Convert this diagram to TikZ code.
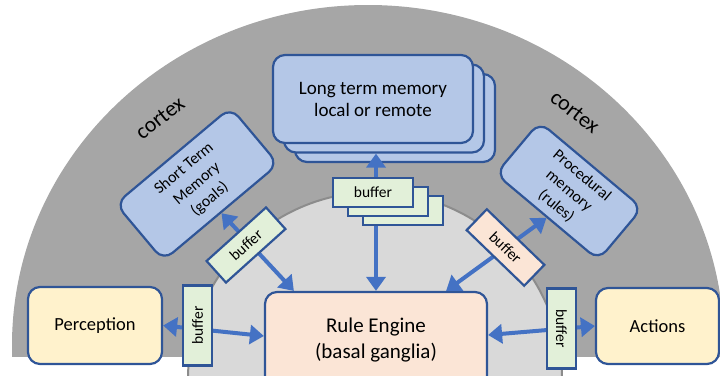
\documentclass[tikz,border=0pt]{standalone}
\usepackage{fontspec}
\setmainfont{Carlito}
\usetikzlibrary{arrows.meta}
\definecolor{cortexgray}{HTML}{A6A6A6}
\definecolor{innergray}{HTML}{D9D9D9}
\definecolor{innerline}{HTML}{8C8C8C}
\definecolor{memblue}{HTML}{B4C7E7}
\definecolor{edgeblue}{HTML}{2F5597}
\definecolor{bufgreen}{HTML}{E2F0D9}
\definecolor{peach}{HTML}{FBE5D6}
\definecolor{cream}{HTML}{FFF2CC}
\definecolor{arrowblue}{HTML}{4472C4}
\begin{document}
\begin{tikzpicture}[x=1pt,y=-1pt,
  box/.style={draw=edgeblue, line width=2.2pt, rounded corners=12pt, inner sep=0pt, align=center, text=black},
  mem/.style={box, fill=memblue},
  buf/.style={draw=edgeblue, line width=2.2pt, fill=bufgreen, inner sep=0pt, minimum width=80pt, minimum height=29pt, font=\fontsize{15.5}{18}\selectfont},
  link/.style={draw=arrowblue, line width=4pt, {Triangle[length=14pt,width=19pt]}-{Triangle[length=14pt,width=19pt]}},
  cortexlabel/.style={font=\fontsize{22}{26}\selectfont}
]
\clip (0,0) rectangle (720,375);
\begin{scope}
  \clip (0,0) rectangle (720,356);
  \fill[cortexgray] (368,345) ellipse [x radius=356, y radius=340];
\end{scope}
\draw[innerline, line width=2pt, fill=innergray] (375,379) circle [radius=187];

\node[cortexlabel, rotate=38] (cortexL) at (160,118) {cortex};
\node[cortexlabel, rotate=-38] (cortexR) at (575,112) {cortex};

\node[mem, minimum width=200pt, minimum height=88pt] (ltm3) at (395,118) {};
\node[mem, minimum width=200pt, minimum height=88pt] (ltm2) at (384,108.5) {};
\node[mem, minimum width=200pt, minimum height=88pt, font=\fontsize{19}{22}\selectfont] (ltm) at (373,99) {Long term memory\\local or remote};

\node[mem, minimum width=150pt, minimum height=74pt, rotate=40, font=\fontsize{16}{20}\selectfont] (stm) at (197,184) {Short Term\\Memory\\(goals)};
\node[mem, minimum width=134pt, minimum height=68pt, rotate=-40, font=\fontsize{16}{20}\selectfont] (proc) at (569,191) {Procedural\\memory\\(rules)};

\node[box, fill=peach, minimum width=222pt, minimum height=96pt, font=\fontsize{21}{26}\selectfont] (re) at (376,340) {Rule Engine\\(basal ganglia)};
\node[box, fill=cream, minimum width=134pt, minimum height=77pt, font=\fontsize{18.5}{22}\selectfont] (perc) at (95,325.5) {Perception};
\node[box, fill=cream, minimum width=123pt, minimum height=76pt, font=\fontsize{18.5}{22}\selectfont] (act) at (657.5,326) {Actions};

\draw[link] (re.north) -- (re.north |- ltm2.south);
\draw[link] ([xshift=30pt]re.north west) -- (stm.south);
\draw[link] ([xshift=-42pt]re.north east) -- (proc.south);
\draw[link] (perc.east) -- ([yshift=4pt]re.west);
\draw[link] ([yshift=5pt]re.east) -- (act.west);

\node[buf, rotate=42] (bstm) at (246,245) {buffer};
\node[buf, fill=peach, rotate=-44] (bproc) at (505.5,247.5) {buffer};
\node[buf, rotate=90] (bperc) at (197.5,325.5) {buffer};
\node[buf, rotate=-90] (bact) at (561.5,328.5) {buffer};
\node[buf] (bltm3) at (403,210.5) {};
\node[buf] (bltm2) at (388,201.5) {};
\node[buf] (bltm) at (373,192.5) {buffer};
\end{tikzpicture}
\end{document}
